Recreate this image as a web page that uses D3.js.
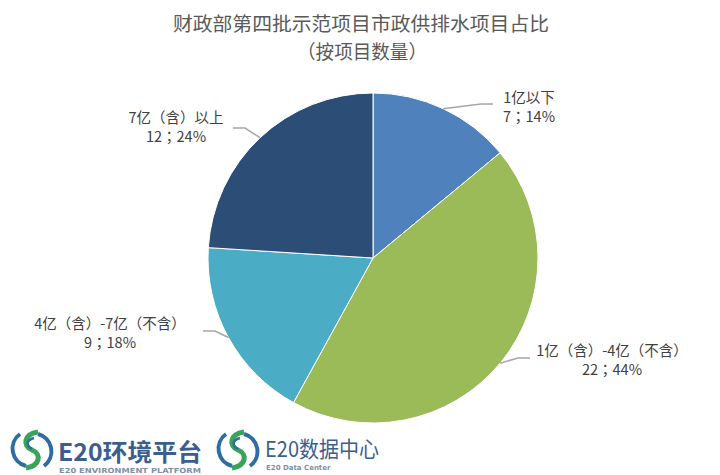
<!DOCTYPE html>
<html><head><meta charset="utf-8">
<script src="https://cdn.jsdelivr.net/npm/d3@7/dist/d3.min.js"></script>
<style>body{margin:0;background:#fff}svg{display:block}</style>
</head><body>
<svg id="c" width="720" height="475"></svg>
<script>
const categories = ["1亿以下", "1亿（含）-4亿（不含）", "4亿（含）-7亿（不含）", "7亿（含）以上"];
const values = [7, 22, 9, 12];
const percents = ["14%", "44%", "18%", "24%"];
const colors = ["#4F81BD", "#9BBB59", "#4BACC6", "#2C4D75"];
const titleLines = ["财政部第四批示范项目市政供排水项目占比", "（按项目数量）"];

const svg = d3.select("#c");
const cx = 373, cy = 258, r = 165;
const font = "'Noto Sans CJK SC','Microsoft YaHei',sans-serif";
const fontTC = "'Noto Sans CJK TC','Noto Sans CJK SC',sans-serif";

svg.append("text").attr("x", 361).attr("y", 31).attr("text-anchor", "middle")
  .attr("font-family", font).attr("font-size", 19).attr("fill", "#595959")
  .attr("textLength", 376).attr("lengthAdjust", "spacingAndGlyphs").text(titleLines[0]);
svg.append("text").attr("x", 362).attr("y", 59).attr("text-anchor", "middle")
  .attr("font-family", fontTC).attr("font-size", 19).attr("fill", "#595959")
  .attr("textLength", 130).attr("lengthAdjust", "spacingAndGlyphs")
  .text(titleLines[1]);

const pie = d3.pie().sort(null).value(d => d)(values);
const arc = d3.arc().innerRadius(0).outerRadius(r);
const g = svg.append("g").attr("transform", `translate(${cx},${cy})`);
g.selectAll("path").data(pie).join("path").attr("d", arc)
  .attr("fill", (d, i) => colors[i]).attr("stroke", "#fff").attr("stroke-width", 1);

const labelPos = [
  {tx: 529, ty: 103, lx: [493, 104]},
  {tx: 612, ty: 356, lx: [530, 358]},
  {tx: 110, ty: 329, lx: [203, 331]},
  {tx: 176, ty: 123, lx: [233, 128]}
];
pie.forEach((d, i) => {
  const a = (d.startAngle + d.endAngle) / 2;
  const ex = cx + r * Math.sin(a), ey = cy - r * Math.cos(a);
  const p = labelPos[i];
  const midx = p.lx[0] + (ex > p.lx[0] ? 12 : -12);
  svg.append("polyline")
    .attr("points", `${ex},${ey} ${midx},${p.lx[1]} ${p.lx[0]},${p.lx[1]}`)
    .attr("fill", "none").attr("stroke", "#A6A6A6").attr("stroke-width", 1.5);
  svg.append("text").attr("text-anchor", "middle").attr("x", p.tx).attr("y", p.ty)
    .attr("font-family", fontTC).attr("font-size", 14.5).attr("fill", "#404040").text(categories[i]);
  svg.append("text").attr("text-anchor", "middle").attr("x", p.tx).attr("y", p.ty + 18.5)
    .attr("font-family", fontTC).attr("font-size", 14.5).attr("fill", "#404040").text(values[i] + "；" + percents[i]);
});

function logo(x, y) {
  const lg = svg.append("g").attr("transform", `translate(${x},${y})`);
  lg.append("path").attr("d", "M8,4 A18,18 0 0,0 14,36").attr("fill", "none").attr("stroke", "#2E6DA4").attr("stroke-width", 4);
  lg.append("path").attr("d", "M32,36 A18,18 0 0,0 26,4").attr("fill", "none").attr("stroke", "#2E6DA4").attr("stroke-width", 4);
  lg.append("path").attr("d", "M26,2 C12,4 10,16 20,20 C30,24 28,36 14,38").attr("fill", "none").attr("stroke", "#3AA35B").attr("stroke-width", 5);
  lg.append("path").attr("d", "M22,8 C14,10 14,16 20,19").attr("fill", "none").attr("stroke", "#2E6DA4").attr("stroke-width", 2.5);
  return lg;
}
logo(12, 430);
svg.append("text").attr("x", 58).attr("y", 461).attr("font-family", font).attr("font-weight", "bold")
  .attr("font-size", 24).attr("fill", "#3B5E8E").attr("textLength", 144).attr("lengthAdjust", "spacingAndGlyphs").text("E20环境平台");
svg.append("text").attr("x", 59).attr("y", 473).attr("font-family", "'DejaVu Sans',sans-serif").attr("font-weight", "bold")
  .attr("font-size", 7).attr("fill", "#7F8FA6").attr("textLength", 142).attr("lengthAdjust", "spacingAndGlyphs").text("E20 ENVIRONMENT PLATFORM");
logo(218, 430);
svg.append("text").attr("x", 265).attr("y", 457).attr("font-family", font)
  .attr("font-size", 22).attr("fill", "#3B5E8E").attr("textLength", 114).attr("lengthAdjust", "spacingAndGlyphs").text("E20数据中心");
svg.append("text").attr("x", 266).attr("y", 470).attr("font-family", "'DejaVu Sans',sans-serif").attr("font-weight", "bold")
  .attr("font-size", 7).attr("fill", "#7F8FA6").text("E20 Data Center");
</script>
</body></html>
